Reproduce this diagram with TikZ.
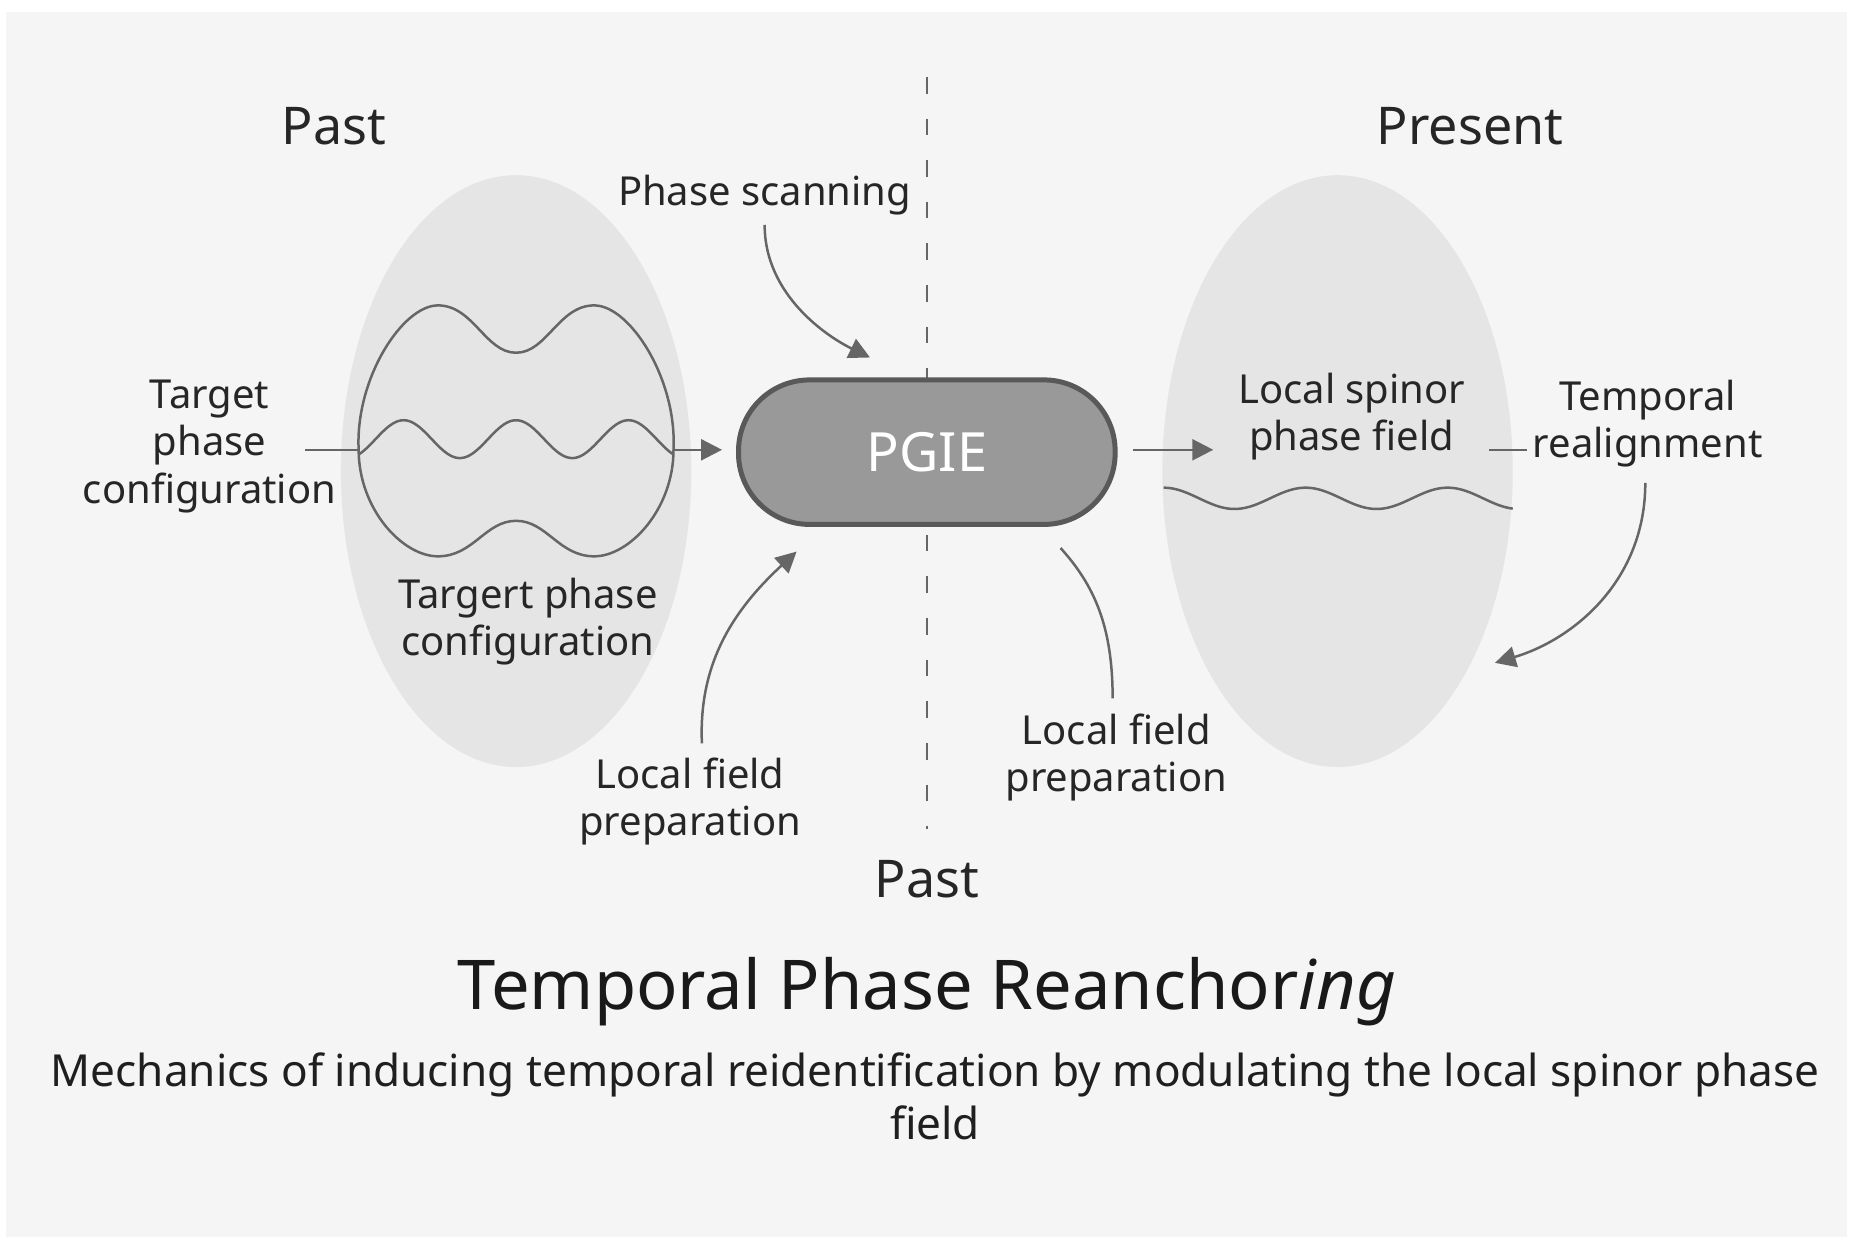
\documentclass[tikz,border=0pt]{standalone}
\usepackage{fontspec}
\setmainfont{Noto Sans}
\usetikzlibrary{arrows.meta}
\begin{document}
\begin{tikzpicture}[x=0.01cm,y=-0.01cm,
  lbl/.style={align=center,font=\fontsize{9.6}{11.4}\selectfont,text=black!85},
  hdr/.style={font=\fontsize{12.5}{14}\selectfont\bfseries,text=black!85},
  ln/.style={draw=black!60,line width=0.6pt},
  arr/.style={ln,-{Triangle[length=5pt,width=5pt]}}]
\useasboundingbox (0,0) rectangle (1568,1054);
\fill[white] (0,0) rectangle (1568,1054);
\fill[black!4] (5,10) rectangle (1560,1045);
% dashed divider
\draw[ln,dash pattern=on 4pt off 6pt] (783,65) -- (783,700);
% ellipses
\fill[black!10] (436,398) ellipse [x radius=148,y radius=250];
\fill[black!10] (1130,398) ellipse [x radius=148,y radius=250];
% headers
\node[hdr] (past1) at (282,107) {Past};
\node[hdr] (pres) at (1242,107) {Present};
\node[hdr] (past2) at (783,743) {Past};
% left inner shape
\draw[ln] (303,380) .. controls (300,320) and (340,258) .. (370,258) .. controls (400,258) and (410,298) .. (436,298) .. controls (462,298) and (472,258) .. (502,258) .. controls (532,258) and (572,320) .. (569,380);
\draw[ln] (303,380) .. controls (303,430) and (340,470) .. (370,470) .. controls (400,470) and (410,440) .. (436,440) .. controls (462,440) and (472,470) .. (502,470) .. controls (532,470) and (569,430) .. (569,380);
\draw[ln] plot[domain=303:569,samples=120] (\x,{371-16*cos((\x-341)/95*360)});
\coordinate (wl) at (303,380); \coordinate (wr) at (569,380);
\node[lbl] (tpc) at (177,377) {Target\\phase\\configuration};
\draw[ln] (258,380) -- (wl);
\node[lbl] (tpc2) at (446,525) {Targert phase\\configuration};
% PGIE
\node[draw=black!65,line width=1.2pt,fill=black!40,rounded corners=0.6cm,minimum width=3.18cm,minimum height=1.22cm,
  text=white,font=\fontsize{13}{15}\selectfont\bfseries] (box) at (783,382) {PGIE};
\coordinate (pin) at (610,380);
\draw[arr] (wr) -- (pin);
% phase scanning
\node[lbl] (ps) at (646,165) {Phase scanning};
\coordinate (psa) at (735,302);
\draw[arr] (646,190) .. controls (646,250) and (700,285) .. (psa);
% local field left
\node[lbl] (lf1) at (583,677) {Local field\\preparation};
\coordinate (lfa) at (673,466);
\draw[arr] (593,628) .. controls (590,560) and (620,515) .. (lfa);
% local field right
\node[lbl] (lf2) at (943,640) {Local field\\preparation};
\draw[ln] (940,590) .. controls (940,530) and (925,495) .. (896,463);
% right side
\coordinate (ra) at (1025,380);
\draw[arr] (957,380) -- (ra);
\node[lbl] (lsp) at (1142,352) {Local spinor\\phase field};
\draw[ln] (1258,380) -- (1290,380);
\node[lbl] (tr) at (1392,358) {Temporal\\realignment};
\draw[ln] plot[domain=983:1278,samples=120] (\x,{421-9*cos((\x-983)/120*360)});
\coordinate (tra) at (1263,560);
\draw[arr] (1390,408) .. controls (1390,490) and (1330,540) .. (tra);
% title
\node[font=\fontsize{16.5}{19}\selectfont,text=black!90] (title) at (783,838) {Temporal Phase Reanchor\textit{ing}};
\node[align=center,font=\fontsize{10.6}{12.8}\selectfont,text=black!88] (sub) at (790,926) {Mechanics of inducing temporal reidentification by modulating the local spinor phase\\field};
\end{tikzpicture}
\end{document}
